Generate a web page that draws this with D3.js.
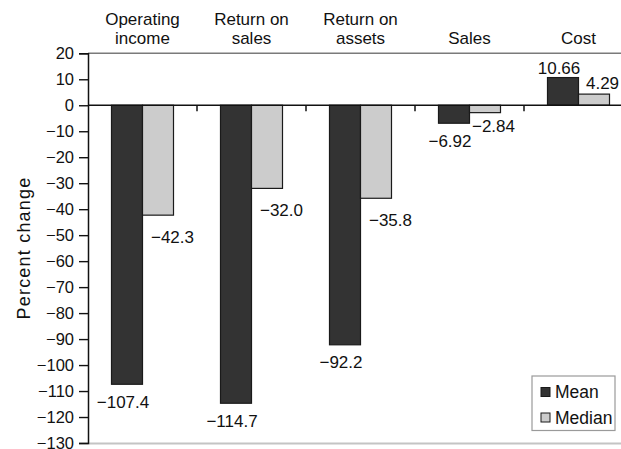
<!DOCTYPE html>
<html>
<head>
<meta charset="utf-8">
<script src="https://cdn.jsdelivr.net/npm/d3@7"></script>
<style>
  html, body { margin: 0; padding: 0; background: #fff; }
  svg { display: block; font-family: "Liberation Sans", Arial, Helvetica, sans-serif; }
</style>
</head>
<body>
<svg id="chart" width="621" height="449"></svg>
<script>
// ---- data ----
const categories = ["Operating income", "Return on sales", "Return on assets", "Sales", "Cost"];
const categoryLines = [["Operating", "income"], ["Return on", "sales"], ["Return on", "assets"], ["Sales"], ["Cost"]];
const seriesNames = ["Mean", "Median"];
const meanValues = [-107.4, -114.7, -92.2, -6.92, 10.66];
const medianValues = [-42.3, -32.0, -35.8, -2.84, 4.29];
const meanLabels = ["\u2212107.4", "\u2212114.7", "\u221292.2", "\u22126.92", "10.66"];
const medianLabels = ["\u221242.3", "\u221232.0", "\u221235.8", "\u22122.84", "4.29"];
const yTicks = [20, 10, 0, -10, -20, -30, -40, -50, -60, -70, -80, -90, -100, -110, -120, -130];
const yTitle = "Percent change";

// ---- layout ----
const svg = d3.select("#chart");
const mLeft = 88, mTop = 53.3, mBottom = 443, mRight = 633;
const colors = { Mean: "#333333", Median: "#cccccc" };

const y = d3.scaleLinear().domain([-130, 20]).range([mBottom, mTop]);
const x0 = d3.scaleBand().domain(categories).range([mLeft, mRight]).padding(0);
const x1 = d3.scaleBand().domain(seriesNames).range([0, x0.bandwidth()]).paddingInner(0).paddingOuter(0.758);

// top border and bottom border
svg.append("line").attr("x1", mLeft).attr("x2", 621).attr("y1", mTop).attr("y2", mTop)
  .attr("stroke", "#7a7a7a").attr("stroke-width", 1.6);
svg.append("line").attr("x1", mLeft).attr("x2", 621).attr("y1", mBottom + 0.5).attr("y2", mBottom + 0.5)
  .attr("stroke", "#c4c4c4").attr("stroke-width", 2);

// y axis
const yAxis = d3.axisLeft(y).tickValues(yTicks).tickSize(9).tickPadding(5)
  .tickFormat(d => d3.format("d")(d));
const gy = svg.append("g").attr("transform", `translate(${mLeft},0)`).call(yAxis);
gy.select(".domain").attr("stroke", "#111").attr("stroke-width", 1.5);
gy.selectAll(".tick line").attr("stroke", "#111").attr("stroke-width", 1.4);
gy.selectAll(".tick text").attr("font-size", 16.5).attr("fill", "#111")
  .attr("font-family", "Liberation Sans, Arial, sans-serif");

// y title
svg.append("text").attr("transform", `translate(30,248) rotate(-90)`)
  .attr("text-anchor", "middle").attr("font-size", 18).attr("letter-spacing", 1.2)
  .attr("fill", "#111").text(yTitle);

// bars
const rows = categories.map((c, i) => ({ c, i, vals: [
  { s: "Mean", v: meanValues[i], label: meanLabels[i] },
  { s: "Median", v: medianValues[i], label: medianLabels[i] }] }));

const groups = svg.append("g").selectAll("g").data(rows).join("g")
  .attr("transform", d => `translate(${x0(d.c)},0)`);
groups.selectAll("rect").data(d => d.vals).join("rect")
  .attr("x", d => x1(d.s))
  .attr("width", x1.bandwidth())
  .attr("y", d => y(Math.max(0, d.v)))
  .attr("height", d => Math.abs(y(d.v) - y(0)))
  .attr("fill", d => colors[d.s])
  .attr("stroke", "#1a1a1a").attr("stroke-width", 1.2);

// zero line
svg.append("line").attr("x1", mLeft).attr("x2", 621).attr("y1", y(0)).attr("y2", y(0))
  .attr("stroke", "#111").attr("stroke-width", 1.6);
// category separator ticks on zero line
svg.append("g").selectAll("line").data(categories.slice(1)).join("line")
  .attr("x1", d => x0(d)).attr("x2", d => x0(d))
  .attr("y1", y(0)).attr("y2", y(0) + 6)
  .attr("stroke", "#111").attr("stroke-width", 1.5);

// value labels
groups.selectAll("text.val").data(d => d.vals).join("text").attr("class", "val")
  .attr("font-size", 17).attr("fill", "#111").attr("text-anchor", "middle")
  .attr("x", d => d.s === "Mean" ? x1(d.s) + x1.bandwidth() / 2 - 4
                                 : x1(d.s) + x1.bandwidth() - (Math.abs(d.v) < 10 ? 7 : 1))
  .attr("y", d => {
    const end = y(d.v);
    if (d.v >= 0) return end - (d.s === "Mean" ? 4 : 5);
    if (d.s === "Mean") return end + 23.5;
    return end + (Math.abs(d.v) < 10 ? 19 : 28);
  })
  .text(d => d.label);

// category labels at top (one text per line)
const catLineData = [];
categories.forEach((c, i) => {
  const lines = categoryLines[i];
  lines.forEach((ln, j) => catLineData.push({ c, ln, fromBottom: lines.length - 1 - j }));
});
svg.append("g").selectAll("text").data(catLineData).join("text")
  .attr("text-anchor", "middle").attr("font-size", 17).attr("fill", "#111")
  .attr("x", d => x0(d.c) + x0.bandwidth() / 2)
  .attr("y", d => 43.5 - d.fromBottom * 18.5)
  .text(d => d.ln);

// legend
const lg = svg.append("g");
lg.append("rect").attr("x", 532).attr("y", 376).attr("width", 83).attr("height", 54.5)
  .attr("fill", "#fff").attr("stroke", "#9a9a9a").attr("stroke-width", 1.2);
seriesNames.forEach((s, i) => {
  const cy = 392 + i * 25.5;
  lg.append("rect").attr("x", 541).attr("y", cy - 4.5).attr("width", 9).attr("height", 9)
    .attr("fill", colors[s]).attr("stroke", "#1a1a1a").attr("stroke-width", 1);
  lg.append("text").attr("x", 555).attr("y", cy + 6).attr("font-size", 17.5)
    .attr("fill", "#111").text(s);
});
</script>
</body>
</html>
